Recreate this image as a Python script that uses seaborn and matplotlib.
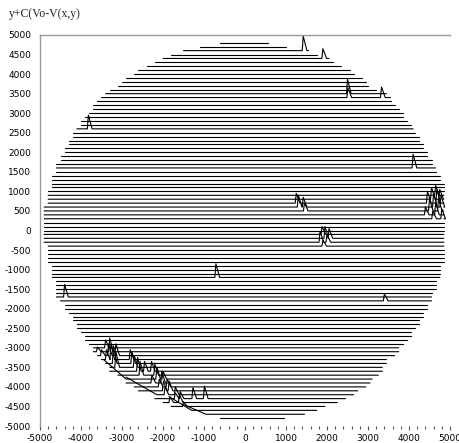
import numpy as np
import pandas as pd
import matplotlib
matplotlib.use("Agg")
import matplotlib.pyplot as plt
from matplotlib.ticker import MultipleLocator
import seaborn as sns

# row levels y (top to bottom)
row_y = [4800, 4700, 4600, 4500, 4400, 4300, 4200, 4100, 4000, 3900,
         3800, 3700, 3600, 3500, 3400, 3300, 3200, 3100, 3000, 2900,
         2800, 2700, 2600, 2500, 2400, 2300, 2200, 2100, 2000, 1900,
         1800, 1700, 1600, 1500, 1400, 1300, 1200, 1100, 1000, 900,
         800, 700, 600, 500, 400, 300, 200, 100, 0, -100,
         -200, -300, -400, -500, -600, -700, -800, -900, -1000, -1100,
         -1200, -1300, -1400, -1500, -1600, -1700, -1800, -1900, -2000, -2100,
         -2200, -2300, -2400, -2500, -2600, -2700, -2800, -2900, -3000, -3100,
         -3200, -3300, -3400, -3500, -3600, -3700, -3800, -3900, -4000, -4100,
         -4200, -4300, -4400, -4500, -4600, -4700, -4800]

left_x = [-600, -1100, -1500, -1800, -2000, -2200, -2400, -2600, -2700, -2900,
          -3000, -3100, -3300, -3400, -3500, -3600, -3700, -3700, -3800, -3900,
          -4000, -4000, -4100, -4200, -4200, -4300, -4300, -4400, -4400, -4500,
          -4500, -4600, -4600, -4600, -4700, -4700, -4700, -4700, -4800, -4800,
          -4800, -4800, -4900, -4900, -4900, -4900, -4900, -4900, -4900, -4900,
          -4900, -4900, -4800, -4800, -4800, -4800, -4800, -4700, -4700, -4700,
          -4700, -4600, -4600, -4600, -4600, -4600, -4500, -4400, -4400, -4300,
          -4200, -4200, -4100, -4100, -4000, -3900, -3900, -3800, -3700, -3700,
          -3600, -3500, -3400, -3300, -3300, -3100, -3000, -2900, -2700, -2600,
          -2400, -2200, -2000, -1800, -1500, -1100, -600]

right_x = [550, 1000, 1550, 1750, 2050, 2150, 2350, 2550, 2650, 2850,
           2950, 3000, 3200, 3450, 3550, 3550, 3650, 3750, 3850, 3850,
           3950, 4050, 4100, 4150, 4250, 4250, 4350, 4350, 4450, 4450,
           4550, 4550, 4650, 4650, 4750, 4750, 4850, 4850, 4850, 4850,
           4850, 4850, 4850, 4850, 4850, 4850, 4850, 4850, 4850, 4850,
           4850, 4850, 4850, 4850, 4850, 4850, 4850, 4750, 4750, 4750,
           4750, 4650, 4650, 4650, 4550, 4550, 4550, 4450, 4450, 4350,
           4350, 4250, 4250, 4150, 4050, 4050, 3950, 3850, 3750, 3750,
           3650, 3450, 3450, 3350, 3350, 3250, 3100, 3050, 2950, 2750,
           2650, 2450, 2250, 1950, 1750, 1450, 950]

# spikes: row level, x position, height
spike_row = [4600, 4400, 3500, 3400, 3400, 2600, 1600,
             900, 800, 800, 700, 700, 600, 600, 500, 500, 400, 400, 300, 300,
             700, 600, 600, 500,
             -100, -200, -200, -300, -300, -400,
             -1200, -1700, -1800,
             -3000, -3100, -3100, -3200, -3200, -3200, -3300, -3300, -3300, -3400, -3500,
             -3400, -3500, -3600, -3700, -3600,
             -3600, -3700, -3800, -3800, -3900, -3900,
             -4000, -4000, -4100, -4100, -4200, -4200, -4300, -4300, -4300, -4300,
             -4400, -4400, -4500]
spike_x = [1420, 1900, 2500, 2510, 3330, -3820, 4100,
           4650, 4550, 4750, 4450, 4680, 4600, 4780, 4500, 4720, 4400, 4650, 4580, 4800,
           1250, 1300, 1420, 1450,
           1880, 1950, 2050, 1830, 2000, 1900,
           -710, -4400, 3400,
           -3400, -3600, -3300, -3500, -3330, -3150, -3270, -3380, -2800, -3210, -3150,
           -2760, -2700, -2620, -2560, -2450,
           -2280, -2200, -2150, -2000, -2030, -2270,
           -2090, -1900, -1990, -1850, -1950, -1700, -1700, -1580, -1270, -990,
           -1830, -1600, -1500]
spike_h = [370, 250, 370, 250, 270, 350, 350,
           250, 300, 250, 300, 350, 350, 300, 300, 300, 200, 300, 200, 250,
           250, 300, 250, 200,
           200, 300, 250, 280, 200, 150,
           350, 320, 180,
           200, 120, 350, 150, 300, 300, 400, 250, 250, 450, 400,
           300, 300, 350, 350, 250,
           250, 280, 300, 200, 300, 200,
           200, 200, 250, 250, 200, 200, 150, 180, 280, 320,
           150, 200, 120]

# rows whose start is raised: row level, start x, end of ramp x, rise
ramp_row = [-3800, -4200, -4600, -4700]
ramp_x0 = [-3450, -2900, -1850, -1500]
ramp_x1 = [-2900, -2150, -1300, -950]
ramp_h = [500, 450, 350, 250]

recs = []
for i, y in enumerate(row_y):
    pts = [(left_x[i], y)]
    if y in ramp_row:
        k = ramp_row.index(y)
        pts = [(ramp_x0[k], y + ramp_h[k]), (ramp_x1[k], y)]
    sp = sorted((spike_x[j], spike_h[j]) for j in range(len(spike_row)) if spike_row[j] == y)
    for sx, sh in sp:
        pts += [(sx - 25, y), (sx, y + sh), (sx + 90, y)]
    pts.append((right_x[i], y))
    for n, (px, py) in enumerate(pts):
        recs.append({"x": px, "y": py, "row": i, "n": n})
df = pd.DataFrame(recs)

sns.set_style("white")
plt.rcParams["font.family"] = ["DejaVu Sans"]
plt.rcParams["axes.unicode_minus"] = False

fig = plt.figure(figsize=(4.6, 4.43), dpi=100)
ax = fig.add_axes([40 / 460, 17 / 443, 410 / 460, 391 / 443])
sns.lineplot(data=df, x="x", y="y", units="row", estimator=None, sort=False,
             color="black", lw=0.8, legend=False, ax=ax)

ax.set_xlim(-5000, 5000)
ax.set_ylim(-5000, 5000)
ax.set_xlabel("")
ax.set_ylabel("")
for s in ["right", "bottom"]:
    ax.spines[s].set_visible(False)
for s in ["top", "left"]:
    ax.spines[s].set_color("#999999")
    ax.spines[s].set_linewidth(1.0)

ax.xaxis.set_major_locator(MultipleLocator(1000))
ax.xaxis.set_minor_locator(MultipleLocator(200))
ax.yaxis.set_major_locator(MultipleLocator(500))
ax.yaxis.set_minor_locator(MultipleLocator(100))
ax.tick_params(axis="both", which="both", direction="out", colors="#555555",
               labelcolor="black", labelsize=6.5, width=0.8)
ax.tick_params(axis="y", which="major", length=5, pad=1.5)
ax.tick_params(axis="y", which="minor", length=2.5)
ax.tick_params(axis="x", which="major", length=3, pad=3, bottom=True)
ax.tick_params(axis="x", which="minor", length=2, bottom=True)

fig.text(9 / 460, 1 - 14 / 443, "y+C(Vo-V(x,y)", family="Liberation Serif",
         fontsize=8.5, va="center", ha="left")

fig.savefig("out.png", dpi=100)
